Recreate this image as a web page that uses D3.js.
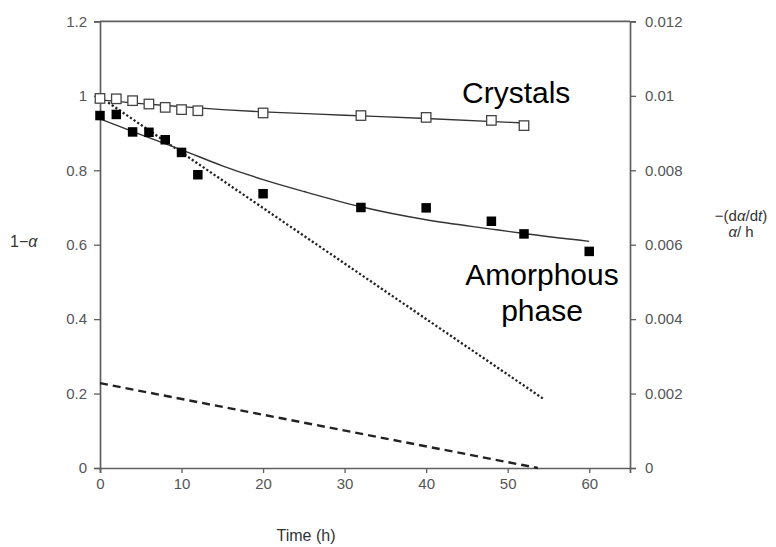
<!DOCTYPE html>
<html>
<head>
<meta charset="utf-8">
<script src="https://cdn.jsdelivr.net/npm/d3@7"></script>
<style>
  body { margin: 0; background: #fff; }
  svg text { font-family: "Liberation Sans", Arial, sans-serif; }
</style>
</head>
<body>
<svg id="chart" width="776" height="547"></svg>
<script>
// measured fraction remaining, 1 - alpha
var crystalTime = [0, 2, 4, 6, 8, 10, 12, 20, 32, 40, 48, 52];
var crystalVal  = [0.993, 0.992, 0.987, 0.978, 0.969, 0.963, 0.960, 0.954, 0.947, 0.942, 0.934, 0.920];
var amorphTime  = [0, 2, 4, 6, 8, 10, 12, 20, 32, 40, 48, 52, 60];
var amorphVal   = [0.947, 0.950, 0.903, 0.902, 0.882, 0.848, 0.788, 0.737, 0.700, 0.699, 0.663, 0.629, 0.582];

// fitted curves through the points
var crystalFitTime = [0, 5, 10, 15, 20, 30, 40, 52];
var crystalFitVal  = [0.989, 0.979, 0.971, 0.963, 0.957, 0.948, 0.939, 0.927];
var amorphFitTime  = [0, 5, 10, 15, 20, 25, 32, 40, 48, 52, 60];
var amorphFitVal   = [0.938, 0.896, 0.855, 0.812, 0.775, 0.743, 0.702, 0.667, 0.642, 0.630, 0.609];

// rate lines, -(dα/dt) on the right axis
var rateTime   = [1, 54.3];
var rateDotted = [0.00982, 0.00187];
var rateDashTime = [0, 53.7];
var rateDashed   = [0.00228, 0];

var xTicks     = [0, 10, 20, 30, 40, 50, 60];
var leftTicks  = [0, 0.2, 0.4, 0.6, 0.8, 1, 1.2];
var rightTicks = [0, 0.002, 0.004, 0.006, 0.008, 0.01, 0.012];

var svg = d3.select("#chart");
var plotLeft = 100, plotRight = 630, plotTop = 21.4, plotBottom = 468;

var xScale = d3.scaleLinear().domain([0, 65]).range([plotLeft, plotRight]);
var yLeft  = d3.scaleLinear().domain([0, 1.2]).range([plotBottom, plotTop]);
var yRight = d3.scaleLinear().domain([0, 0.012]).range([plotBottom, plotTop]);

var axisColor = "#5f5f5f", labelColor = "#555";

function styleAxis(g) {
  g.selectAll("path.domain").attr("stroke", axisColor).attr("stroke-width", 1.7);
  g.selectAll(".tick line").attr("stroke", axisColor).attr("stroke-width", 1.3);
  g.selectAll(".tick text").attr("fill", labelColor).style("font-size", "15px")
    .style("font-family", "'Liberation Sans', Arial, sans-serif");
}

// top frame line
svg.append("line")
  .attr("x1", plotLeft).attr("x2", plotRight).attr("y1", plotTop).attr("y2", plotTop)
  .attr("stroke", axisColor).attr("stroke-width", 1.7);

svg.append("g")
  .attr("transform", "translate(0," + plotBottom + ")")
  .call(d3.axisBottom(xScale).tickValues(xTicks).tickSizeOuter(0).tickSize(5).tickPadding(5))
  .call(styleAxis);

svg.append("g")
  .attr("transform", "translate(" + plotLeft + ",0)")
  .call(d3.axisLeft(yLeft).tickValues(leftTicks).tickSizeOuter(0).tickSize(6).tickPadding(7)
    .tickFormat(function(d) { return String(+d.toFixed(1)); }))
  .call(styleAxis);

svg.append("g")
  .attr("transform", "translate(" + plotRight + ",0)")
  .call(d3.axisRight(yRight).tickValues(rightTicks).tickSizeOuter(0).tickSize(6).tickPadding(9)
    .tickFormat(function(d) { return String(+d.toFixed(3)); }))
  .call(styleAxis);

// axis titles
svg.append("text").attr("x", 10).attr("y", 247)
  .style("font-size", "16px").attr("fill", "#333")
  .html('1\u2212<tspan font-style="italic">\u03b1</tspan>');

svg.append("text").attr("x", 741).attr("y", 221).attr("text-anchor", "middle")
  .style("font-size", "15px").attr("fill", "#333")
  .html('\u2212(d<tspan font-style="italic">\u03b1</tspan>/d<tspan font-style="italic">t</tspan>)');
svg.append("text").attr("x", 741).attr("y", 237).attr("text-anchor", "middle")
  .style("font-size", "15px").attr("fill", "#333")
  .html('<tspan font-style="italic">\u03b1</tspan>/ h');

svg.append("text").attr("x", 306).attr("y", 541).attr("text-anchor", "middle")
  .style("font-size", "16px").attr("fill", "#333")
  .text("Time (h)");

// series labels
svg.append("text").attr("x", 462).attr("y", 103)
  .style("font-size", "30px").attr("fill", "#000").text("Crystals");
svg.append("text").attr("x", 542).attr("y", 285).attr("text-anchor", "middle")
  .style("font-size", "30px").attr("fill", "#000").text("Amorphous");
svg.append("text").attr("x", 542).attr("y", 321).attr("text-anchor", "middle")
  .style("font-size", "30px").attr("fill", "#000").text("phase");

var lineLeft = d3.line()
  .x(function(d) { return xScale(d[0]); })
  .y(function(d) { return yLeft(d[1]); })
  .curve(d3.curveMonotoneX);
var lineRight = d3.line()
  .x(function(d) { return xScale(d[0]); })
  .y(function(d) { return yRight(d[1]); });

// rate lines
svg.append("path")
  .datum(d3.zip(rateTime, rateDotted))
  .attr("d", lineRight)
  .attr("fill", "none").attr("stroke", "#222").attr("stroke-width", 2.3)
  .attr("stroke-dasharray", "2.2,2.2");

svg.append("path")
  .datum(d3.zip(rateDashTime, rateDashed))
  .attr("d", lineRight)
  .attr("fill", "none").attr("stroke", "#222").attr("stroke-width", 2.4)
  .attr("stroke-dasharray", "8,5");

// fitted curves
svg.append("path")
  .datum(d3.zip(crystalFitTime, crystalFitVal))
  .attr("d", lineLeft)
  .attr("fill", "none").attr("stroke", "#333").attr("stroke-width", 1.4);

svg.append("path")
  .datum(d3.zip(amorphFitTime, amorphFitVal))
  .attr("d", lineLeft)
  .attr("fill", "none").attr("stroke", "#333").attr("stroke-width", 1.4);

var sq = 9.5;

// amorphous phase, filled squares
svg.selectAll(".amorph")
  .data(d3.zip(amorphTime, amorphVal))
  .enter().append("rect")
  .attr("class", "amorph")
  .attr("x", function(d) { return xScale(d[0]) - sq / 2; })
  .attr("y", function(d) { return yLeft(d[1]) - sq / 2; })
  .attr("width", sq).attr("height", sq)
  .attr("fill", "#000");

// crystals, open squares
svg.selectAll(".crystal")
  .data(d3.zip(crystalTime, crystalVal))
  .enter().append("rect")
  .attr("class", "crystal")
  .attr("x", function(d) { return xScale(d[0]) - sq / 2; })
  .attr("y", function(d) { return yLeft(d[1]) - sq / 2; })
  .attr("width", sq).attr("height", sq)
  .attr("fill", "#fff").attr("stroke", "#444").attr("stroke-width", 1.3);
</script>
</body>
</html>
